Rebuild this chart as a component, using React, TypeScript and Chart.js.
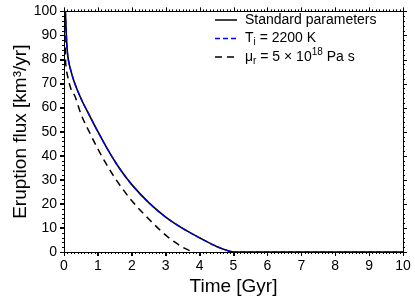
import React, { useEffect, useRef } from "react";
import { Chart, registerables } from "chart.js";

Chart.register(...registerables);

// Standard parameters
const stdTime = [0.04, 0.07, 0.1, 0.14, 0.2, 0.3, 0.5, 0.75, 1.0, 1.25, 1.5, 1.75, 2.0, 2.5, 3.0, 3.5, 4.0, 4.5, 4.8, 5.0, 10];
const stdFlux = [100, 90, 83, 79, 75.5, 70.8, 63.8, 56.8, 50, 43.6, 37.7, 32.5, 28, 20.5, 14.5, 9.8, 5.9, 2.3, 0.7, 0, 0];
// T_i = 2200 K (overlaps the standard curve)
const tiTime = [0.04, 0.07, 0.1, 0.14, 0.2, 0.3, 0.5, 0.75, 1.0, 1.25, 1.5, 1.75, 2.0, 2.5, 3.0, 3.5, 4.0, 4.5, 4.8, 5.0, 10];
const tiFlux = [100, 90, 83, 79, 75.5, 70.8, 63.8, 56.8, 50, 43.6, 37.7, 32.5, 28, 20.5, 14.5, 9.8, 5.9, 2.3, 0.7, 0, 0];
// mu_r = 5e18 Pa s
const muTime = [0.02, 0.04, 0.07, 0.1, 0.2, 0.33, 0.5, 0.75, 1.0, 1.25, 1.5, 1.75, 2.0, 2.5, 3.0, 3.25, 3.5, 3.75, 3.8];
const muFlux = [100, 82, 76, 73.5, 68, 64.5, 57.3, 49.8, 42.8, 36.5, 30.8, 25.8, 21.3, 13.7, 7.0, 4.3, 2.0, 0.3, 0];

const xTicks = [0, 1, 2, 3, 4, 5, 6, 7, 8, 9, 10];
const yTicks = [0, 10, 20, 30, 40, 50, 60, 70, 80, 90, 100];

const FONT = "'Liberation Sans', Arial, sans-serif";

const toPts = (t: number[], v: number[]) => t.map((x, i) => ({ x, y: v[i] }));

const framePlugin = {
  id: "frame",
  afterDraw(chart: any) {
    const { ctx, chartArea } = chart;
    const { left, right, top, bottom } = chartArea;
    const xs = chart.scales.x;
    const ys = chart.scales.y;
    ctx.save();
    ctx.strokeStyle = "#000";
    ctx.lineWidth = 1;
    ctx.beginPath();
    ctx.rect(Math.round(left) + 0.5, Math.round(top) + 0.5, Math.round(right - left), Math.round(bottom - top));
    ctx.stroke();
    ctx.beginPath();
    for (let i = 0; i <= 100; i++) {
      const v = i / 10;
      const px = Math.round(xs.getPixelForValue(v)) + 0.5;
      const major = i % 10 === 0;
      ctx.moveTo(px, bottom);
      ctx.lineTo(px, bottom + (major ? 4 : 2));
      ctx.moveTo(px, top);
      ctx.lineTo(px, top - (major ? 4 : 2));
    }
    for (let i = 0; i <= 50; i++) {
      const v = i * 2;
      const py = Math.round(ys.getPixelForValue(v)) + 0.5;
      const major = v % 10 === 0;
      ctx.moveTo(left, py);
      ctx.lineTo(left - (major ? 4 : 2), py);
      ctx.moveTo(right, py);
      ctx.lineTo(right + (major ? 4 : 2), py);
    }
    ctx.stroke();

    // legend
    const rows = [
      { y: 20, color: "#000", dash: [] as number[], parts: [["Standard parameters", 0]] },
      { y: 38.5, color: "#0000ff", dash: [5, 3], parts: [["T", 0], ["i", 1], [" = 2200 K", 0]] },
      { y: 57, color: "#000", dash: [7, 5], parts: [["\u03bc", 0], ["r", 1], [" = 5 \u00d7 10", 0], ["18", -1], [" Pa s", 0]] },
    ];
    for (const r of rows) {
      ctx.beginPath();
      ctx.setLineDash(r.dash);
      ctx.strokeStyle = r.color;
      ctx.lineWidth = 1.5;
      ctx.moveTo(215, r.y);
      ctx.lineTo(237, r.y);
      ctx.stroke();
      ctx.setLineDash([]);
      let x = 245;
      ctx.fillStyle = "#000";
      ctx.textBaseline = "middle";
      ctx.textAlign = "left";
      for (const [txt, kind] of r.parts as [string, number][]) {
        if (kind === 0) {
          ctx.font = `14px ${FONT}`;
          ctx.fillText(txt, x, r.y);
        } else if (kind === 1) {
          ctx.font = `10px ${FONT}`;
          ctx.fillText(txt, x, r.y + 4);
        } else {
          ctx.font = `10px ${FONT}`;
          ctx.fillText(txt, x, r.y - 5);
        }
        x += ctx.measureText(txt).width;
      }
    }
    ctx.restore();
  },
};

export default function App() {
  const ref = useRef<HTMLCanvasElement>(null);
  useEffect(() => {
    if (!ref.current) return;
    const chart = new Chart(ref.current, {
      type: "line",
      data: {
        datasets: [
          {
            label: "Standard parameters",
            data: toPts(stdTime, stdFlux),
            borderColor: "#000",
            borderWidth: 1.6,
            pointRadius: 0,
            cubicInterpolationMode: "monotone",
            order: 2,
          },
          {
            label: "T_i = 2200 K",
            data: toPts(tiTime, tiFlux),
            borderColor: "#0000ff",
            borderWidth: 1.4,
            borderDash: [5, 3],
            pointRadius: 0,
            cubicInterpolationMode: "monotone",
            order: 1,
          },
          {
            label: "mu_r = 5 x 10^18 Pa s",
            data: toPts(muTime, muFlux),
            borderColor: "#000",
            borderWidth: 1.5,
            borderDash: [7, 5],
            pointRadius: 0,
            cubicInterpolationMode: "monotone",
            order: 0,
          },
        ],
      },
      options: {
        animation: false,
        responsive: false,
        layout: { padding: { top: 10, right: 12, left: 0, bottom: 0 } },
        plugins: { legend: { display: false }, tooltip: { enabled: false } },
        scales: {
          x: {
            type: "linear",
            min: 0,
            max: 10,
            afterBuildTicks: (s: any) => {
              s.ticks = xTicks.map((v) => ({ value: v }));
            },
            afterFit: (s: any) => {
              s.height = 52;
            },
            ticks: { font: { size: 14, family: FONT }, color: "#000", padding: 2, maxRotation: 0 },
            grid: { drawOnChartArea: false, drawTicks: true, tickLength: 4, color: "#000" },
            border: { display: true, color: "#000" },
            title: {
              display: true,
              text: "Time [Gyr]",
              color: "#000",
              font: { size: 19, family: FONT },
              padding: { top: 0, bottom: 6 },
            },
          },
          y: {
            type: "linear",
            min: 0,
            max: 100,
            afterBuildTicks: (s: any) => {
              s.ticks = yTicks.map((v) => ({ value: v }));
            },
            afterFit: (s: any) => {
              s.width = 64;
            },
            ticks: { font: { size: 14, family: FONT }, color: "#000", padding: 3 },
            grid: { drawOnChartArea: false, drawTicks: true, tickLength: 4, color: "#000" },
            border: { display: true, color: "#000" },
            title: {
              display: true,
              text: "Eruption flux [km\u00b3/yr]",
              color: "#000",
              font: { size: 19, family: FONT },
              padding: { top: 9, bottom: 0 },
            },
          },
        },
      },
      plugins: [framePlugin],
    });
    return () => chart.destroy();
  }, []);
  return (
    <div style={{ position: "fixed", left: 0, top: 0, width: 415, height: 304, background: "#fff" }}>
      <canvas ref={ref} width={415} height={304} style={{ display: "block" }} />
    </div>
  );
}
